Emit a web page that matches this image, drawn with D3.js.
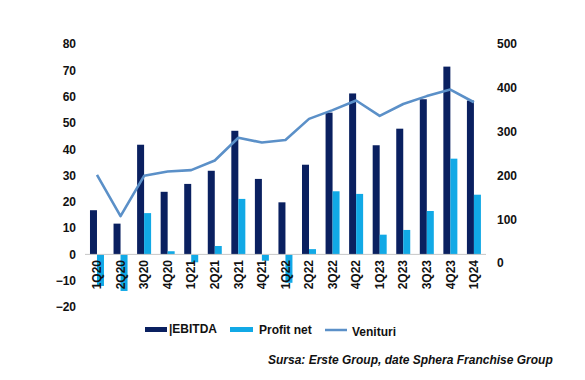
<!DOCTYPE html>
<html><head><meta charset="utf-8">
<script src="https://cdn.jsdelivr.net/npm/d3@7"></script>
<style>
body{margin:0;background:#fff;}
text{font-family:"Liberation Sans",Arial,sans-serif;}
</style></head><body>
<svg id="c" width="585" height="380"></svg>
<script>
const categories = ["1Q20","2Q20","3Q20","4Q20","1Q21","2Q21","3Q21","4Q21","1Q22","2Q22","3Q22","4Q22","1Q23","2Q23","3Q23","4Q23","1Q24"];
const ebitda = [16.8,11.7,41.7,23.8,26.8,31.8,47.0,28.7,19.8,34.1,53.9,61.2,41.5,47.8,59.0,71.4,58.5];
const profitNet = [-12.0,-13.9,15.7,1.2,-3.0,3.2,21.1,-2.4,-10.8,2.0,24.0,23.0,7.5,9.3,16.5,36.4,22.7];
const venituri = [201,107,199,209,212,234,286,275,281,329,349,371,336,363,381,396,367];
const leftTicks = [80,70,60,50,40,30,20,10,0,-10,-20];
const rightTicks = [500,400,300,200,100,0];
const seriesNames = ["EBITDA","Profit net","Venituri"];
const sourceText = "Sursa: Erste Group, date Sphera Franchise Group";

const colE = "#0a2060", colP = "#11a9e6", colV = "#5b90c8";
const svg = d3.select("#c");

const x = d3.scaleBand().domain(categories).range([85.2,485.7]).padding(0);
const yL = d3.scaleLinear().domain([-20,80]).range([307,44]);
const yR = d3.scaleLinear().domain([0,500]).range([263,44]);
const bw = 7;

// bars
svg.append("g").selectAll("rect").data(categories).join("rect")
  .attr("x", d => x(d)+x.bandwidth()/2 - bw)
  .attr("width", bw)
  .attr("y", (d,i) => yL(Math.max(0,ebitda[i])))
  .attr("height", (d,i) => Math.abs(yL(ebitda[i]) - yL(0)))
  .attr("fill", colE);
svg.append("g").selectAll("rect").data(categories).join("rect")
  .attr("x", d => x(d)+x.bandwidth()/2)
  .attr("width", bw)
  .attr("y", (d,i) => yL(Math.max(0,profitNet[i])))
  .attr("height", (d,i) => Math.abs(yL(profitNet[i]) - yL(0)))
  .attr("fill", colP);

// zero line
svg.append("line").attr("x1",85).attr("x2",486).attr("y1",yL(0)).attr("y2",yL(0))
  .attr("stroke","#c8c8c8").attr("stroke-width",1);

// line
const line = d3.line().x((d,i)=>x(categories[i])+x.bandwidth()/2).y(d=>yR(d));
svg.append("path").datum(venituri).attr("d",line).attr("fill","none")
  .attr("stroke",colV).attr("stroke-width",2.6).attr("stroke-linejoin","round");

// left axis
const axL = d3.axisLeft(yL).tickValues(leftTicks).tickSize(0).tickPadding(0).tickFormat(d3.format("d"));
const gL = svg.append("g").attr("transform","translate(76,0)").call(axL);
gL.select(".domain").remove();
gL.selectAll("text").attr("font-size",12).attr("font-weight","bold").attr("fill","#111")
  .attr("font-family","Liberation Sans, Arial, sans-serif");

// right axis
const axR = d3.axisRight(yR).tickValues(rightTicks).tickSize(0).tickPadding(0).tickFormat(d3.format("d"));
const gR = svg.append("g").attr("transform","translate(497,0)").call(axR);
gR.select(".domain").remove();
gR.selectAll("text").attr("font-size",12).attr("font-weight","bold").attr("fill","#111")
  .attr("font-family","Liberation Sans, Arial, sans-serif");

// category labels
const axX = d3.axisBottom(x).tickSize(0).tickPadding(0);
const gX = svg.append("g").attr("transform","translate(0,260)").call(axX);
gX.select(".domain").remove();
gX.selectAll("text")
  .attr("transform","rotate(-90)")
  .attr("x",0).attr("y",0).attr("dy","0.35em")
  .attr("text-anchor","end")
  .attr("font-size",12).attr("font-weight","bold").attr("fill","#111")
  .attr("font-family","Liberation Sans, Arial, sans-serif");

// legend
const lg = svg.append("g");
lg.append("rect").attr("x",145).attr("y",327).attr("width",22).attr("height",5).attr("fill",colE);
lg.append("text").attr("x",169).attr("y",333).attr("font-size",12).attr("font-weight","bold").attr("fill","#111").text("|"+seriesNames[0]);
lg.append("rect").attr("x",230).attr("y",327).attr("width",23).attr("height",5).attr("fill",colP);
lg.append("text").attr("x",259).attr("y",334).attr("font-size",12).attr("font-weight","bold").attr("fill","#111").text(seriesNames[1]);
lg.append("line").attr("x1",325).attr("x2",347).attr("y1",330).attr("y2",330).attr("stroke",colV).attr("stroke-width",2.5);
lg.append("text").attr("x",352).attr("y",336).attr("font-size",12).attr("font-weight","bold").attr("fill","#111").text(seriesNames[2]);

svg.append("text").attr("x",268).attr("y",364).attr("font-size",12).attr("font-weight","bold")
  .attr("font-style","italic").attr("fill","#111").text(sourceText);
</script>
</body></html>
